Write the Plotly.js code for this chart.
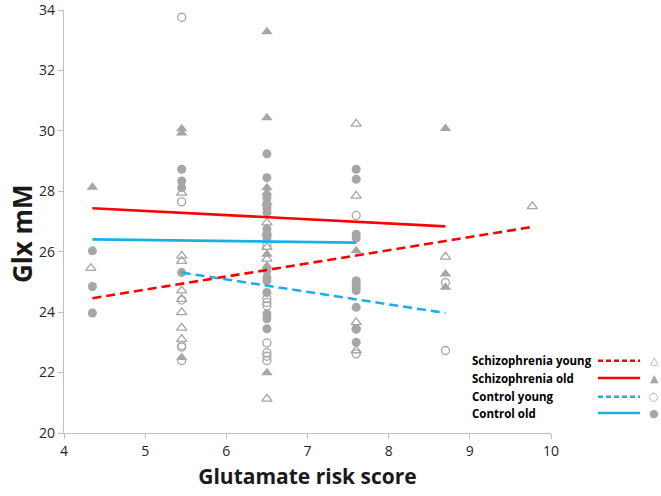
<!DOCTYPE html>
<html>
<head>
<meta charset="utf-8">
<script src="https://cdn.plot.ly/plotly-3.0.1.min.js"></script>
<style>html,body{margin:0;padding:0;background:#fff;}#chart{width:661px;height:496px;}</style>
</head>
<body>
<div id="chart"></div>
<script>
// ---- data ----
// Schizophrenia young (open triangles)
const szYoungX = [4.33, 5.45,5.45,5.45,5.45,5.45,5.45,5.45,5.45, 6.5,6.5,6.5,6.5, 7.6,7.6,7.6,7.6, 8.7, 9.77];
const szYoungY = [25.46, 27.95,25.86,25.69,24.71,24.43,23.99,23.48,23.11, 26.96,26.15,25.76,21.13, 30.23,27.85,23.66,22.73, 25.83, 27.5];
// Schizophrenia old (filled triangles)
const szOldX = [4.35, 5.45,5.45,5.45, 6.5,6.5,6.5,6.5,6.5,6.5,6.5,6.5,6.5, 7.6, 8.7,8.7,8.7];
const szOldY = [28.13, 30.07,29.93,22.5, 33.28,30.43,28.12,27.95,27.6,26.6,25.92,25.53,21.99, 26.03, 30.08,25.26,24.82];
// Control young (open circles)
const ctYoungX = [5.45,5.45,5.45,5.45,5.45,5.45, 6.5,6.5,6.5,6.5,6.5,6.5,6.5,6.5, 7.6,7.6,7.6, 8.7,8.7];
const ctYoungY = [33.76,27.65,24.4,22.89,22.84,22.4, 26.2,24.45,24.32,24.21,22.98,22.66,22.54,22.4, 27.2,23.44,22.62, 24.98,22.73];
// Control old (filled circles)
const ctOldX = [4.35,4.35,4.35, 5.45,5.45,5.45,5.45, 6.5,6.5,6.5,6.5,6.5,6.5,6.5,6.5,6.5,6.5,6.5,6.5,6.5,6.5,6.5,6.5, 7.6,7.6,7.6,7.6,7.6,7.6,7.6,7.6,7.6,7.6,7.6];
const ctOldY = [26.03,24.85,23.97, 28.73,28.34,28.12,25.31, 29.24,28.45,27.79,27.6,27.45,27.3,26.75,26.6,26.45,25.37,25.15,25.04,24.65,23.94,23.78,23.45, 28.73,28.4,26.58,26.45,25.04,24.93,24.82,24.71,24.16,23.44,23.0];
// Trend lines (end points)
const trendSzYoungX = [4.35, 9.77], trendSzYoungY = [24.46, 26.82];
const trendSzOldX = [4.35, 8.7],   trendSzOldY = [27.44, 26.84];
const trendCtYoungX = [5.45, 8.7], trendCtYoungY = [25.31, 23.97];
const trendCtOldX = [4.35, 7.6],   trendCtOldY = [26.41, 26.3];
// axis ticks
const xTicks = [4, 5, 6, 7, 8, 9, 10];
const yTicks = [20, 22, 24, 26, 28, 30, 32, 34];
// legend
const legendNames = ["Schizophrenia young", "Schizophrenia old", "Control young", "Control old"];
const legendSymbols = ["\u25B3", "\u25B2", "\u25CB", "\u25CF"];

const GRAY = "#a6a6a6", RED = "#ff0000", BLUE = "#1aafe6";
function pts(x, y, symbol, size) {
  const open = symbol.indexOf("open") >= 0;
  return {x, y, type: "scatter", mode: "markers", hoverinfo: "skip", showlegend: false, cliponaxis: false,
    marker: {symbol, size, color: GRAY, line: {color: GRAY, width: open ? 1.3 : 0}}};
}
function line(x, y, color, dash) {
  return {x, y, type: "scatter", mode: "lines", showlegend: false, hoverinfo: "skip",
    line: {color, width: 2.6, dash: dash ? "9px,5px" : "solid"}};
}
const traces = [
  pts(szYoungX, szYoungY, "triangle-up-open", 9),
  pts(szOldX, szOldY, "triangle-up", 10),
  pts(ctYoungX, ctYoungY, "circle-open", 8),
  pts(ctOldX, ctOldY, "circle", 9),
  line(trendSzYoungX, trendSzYoungY, RED, true),
  line(trendSzOldX, trendSzOldY, RED, false),
  line(trendCtYoungX, trendCtYoungY, BLUE, true),
  line(trendCtOldX, trendCtOldY, BLUE, false)
];

const L = 64, R = 551, T = 10, B = 433;
const px = v => (v - L) / (R - L);
const py = v => (B - v) / (B - T);
const rowsY = [360.7, 378, 396.7, 413];
const legendColors = [RED, RED, BLUE, BLUE];
const legendDash = [true, false, true, false];
const annotations = [], shapes = [];
legendNames.forEach((n, i) => {
  annotations.push({xref: "paper", yref: "paper", x: px(470), y: py(rowsY[i]), xanchor: "left", yanchor: "middle",
    text: "<b>" + n + "</b>", showarrow: false, font: {family: "Open Sans", size: 11.5, color: "#000"}});
  shapes.push({type: "line", xref: "paper", yref: "paper", x0: px(598), x1: px(640), y0: py(rowsY[i]), y1: py(rowsY[i]),
    line: {color: legendColors[i], width: 2.4, dash: legendDash[i] ? "5px,3px" : "solid"}});
  annotations.push({xref: "paper", yref: "paper", x: px(654), y: py(rowsY[i]), xanchor: "center", yanchor: "middle",
    text: legendSymbols[i], showarrow: false, font: {family: "DejaVu Sans", size: 11, color: GRAY}});
});
// y-axis title (placed like the reference, slightly below the plot centre)
annotations.push({xref: "paper", yref: "paper", x: px(22), y: py(234), xanchor: "center", yanchor: "middle",
  textangle: -90, text: "<b>Glx mM</b>", showarrow: false, font: {family: "Open Sans", size: 26, color: "#1a1a1a"}});

const layout = {
  width: 661, height: 496,
  margin: {l: L, r: 661 - R, t: T, b: 496 - B},
  paper_bgcolor: "#fff", plot_bgcolor: "#fff",
  showlegend: false,
  font: {family: "Open Sans", color: "#404040"},
  xaxis: {range: [4, 10], tickmode: "array", tickvals: xTicks, ticktext: xTicks.map(String), showgrid: false, zeroline: false,
    showline: true, linecolor: "#bfbfbf", linewidth: 1.3, ticks: "outside", ticklen: 5, tickcolor: "#bfbfbf",
    ticklabeloverflow: "allow", tickfont: {size: 14, color: "#262626"},
    title: {text: "<b>Glutamate risk score</b>", font: {size: 21, color: "#1a1a1a"}, standoff: 10}},
  yaxis: {range: [20, 34], tickmode: "array", tickvals: yTicks, ticktext: yTicks.map(String), showgrid: false, zeroline: false,
    showline: true, linecolor: "#bfbfbf", linewidth: 1.3, ticks: "outside", ticklen: 5, tickcolor: "#bfbfbf",
    ticklabeloverflow: "allow", tickfont: {size: 14, color: "#262626"}},
  annotations, shapes
};
Plotly.newPlot("chart", traces, layout, {displayModeBar: false, staticPlot: true});
</script>
</body>
</html>
